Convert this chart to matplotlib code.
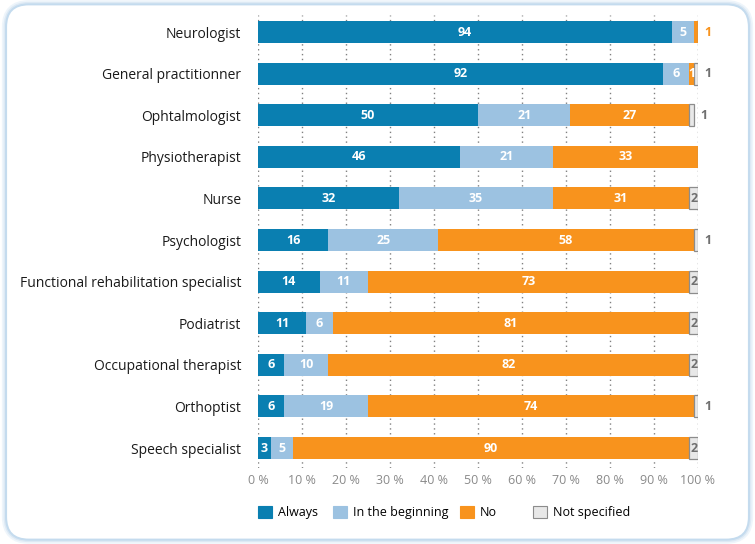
import matplotlib.pyplot as plt
from matplotlib.patches import FancyBboxPatch, Patch

plt.rcParams['font.family'] = ['Open Sans', 'DejaVu Sans']

# data (percent)
categories = ["Neurologist", "General practitionner", "Ophtalmologist", "Physiotherapist",
              "Nurse", "Psychologist", "Functional rehabilitation specialist", "Podiatrist",
              "Occupational therapist", "Orthoptist", "Speech specialist"]
always = [94, 92, 50, 46, 32, 16, 14, 11, 6, 6, 3]
beginning = [5, 6, 21, 21, 35, 25, 11, 6, 10, 19, 5]
no = [1, 1, 27, 33, 31, 58, 73, 81, 82, 74, 90]
not_specified = [0, 1, 1, 0, 2, 1, 2, 2, 2, 1, 2]

series_names = ["Always", "In the beginning", "No", "Not specified"]
colors = ["#0a7fb1", "#9cc2e1", "#f8931d", "#e8e8e8"]
edges = ["none", "none", "none", "#8c8c8c"]

fig = plt.figure(figsize=(7.55, 5.44), dpi=100)

# rounded frame with soft shadow
for i, (lw, c) in enumerate([(6, "#eef5fb"), (3.5, "#dde9f4"), (1.5, "#c4dbee")]):
    frame = FancyBboxPatch((0.008, 0.008), 0.984, 0.984, boxstyle="round,pad=0,rounding_size=0.03",
                           transform=fig.transFigure, facecolor="white" if i == 2 else "none",
                           edgecolor=c, linewidth=lw, zorder=-10 + i,
                           mutation_aspect=755 / 544)
    fig.patches.append(frame)

ax = fig.add_axes([0.3417, 0.1397, 0.5828, 0.8327])
ax.set_facecolor("none")

y = list(range(len(categories)))
data = [always, beginning, no, not_specified]
left = [0] * len(categories)
for k, vals in enumerate(data):
    ax.barh(y, vals, left=left, height=0.53, color=colors[k], edgecolor=edges[k],
            linewidth=0.9 if edges[k] != "none" else 0, zorder=3)
    left = [l + v for l, v in zip(left, vals)]

# value labels
for i in range(len(categories)):
    vals = [d[i] for d in data]
    last = max(k for k in range(4) if vals[k] > 0)
    start = 0
    for k, v in enumerate(vals):
        if v <= 0:
            continue
        if k == last and v <= 1:
            col = "#f8931d" if k == 2 else "#707070"
            ax.text(start + v + 1.5, i, str(v), ha="left", va="center", fontsize=9,
                    fontweight="bold", color=col, zorder=4)
        else:
            col = "#707070" if k == 3 else "white"
            ax.text(start + v / 2, i, str(v), ha="center", va="center", fontsize=9,
                    fontweight="bold", color=col, zorder=4)
        start += v

ax.set_xlim(0, 100)
ax.set_ylim(10.48, -0.41)
ax.set_yticks(y)
ax.set_yticklabels(categories, fontsize=10, color="#1a1a1a")
ax.set_xticks(range(0, 101, 10))
ax.set_xticklabels([f"{t} %" for t in range(0, 101, 10)], fontsize=9, color="#8a8a8a")
ax.tick_params(axis="both", length=0)
ax.tick_params(axis="y", pad=12)
ax.tick_params(axis="x", pad=4)
ax.grid(axis="x", linestyle=(0, (1, 2.5)), color="#808080", linewidth=1, zorder=1)
for s in ax.spines.values():
    s.set_visible(False)

# legend entries placed one by one to match the original spacing
legend_x = [0.3417, 0.441, 0.609, 0.706]
for k in range(4):
    h = Patch(facecolor=colors[k], edgecolor="#8c8c8c" if k == 3 else colors[k], linewidth=0.8)
    fig.legend([h], [series_names[k]], loc="center left", bbox_to_anchor=(legend_x[k], 0.058),
               frameon=False, fontsize=9, handlelength=1.1, handleheight=1.1,
               handletextpad=0.5, borderpad=0, borderaxespad=0)

fig.savefig("out.png", dpi=100)
